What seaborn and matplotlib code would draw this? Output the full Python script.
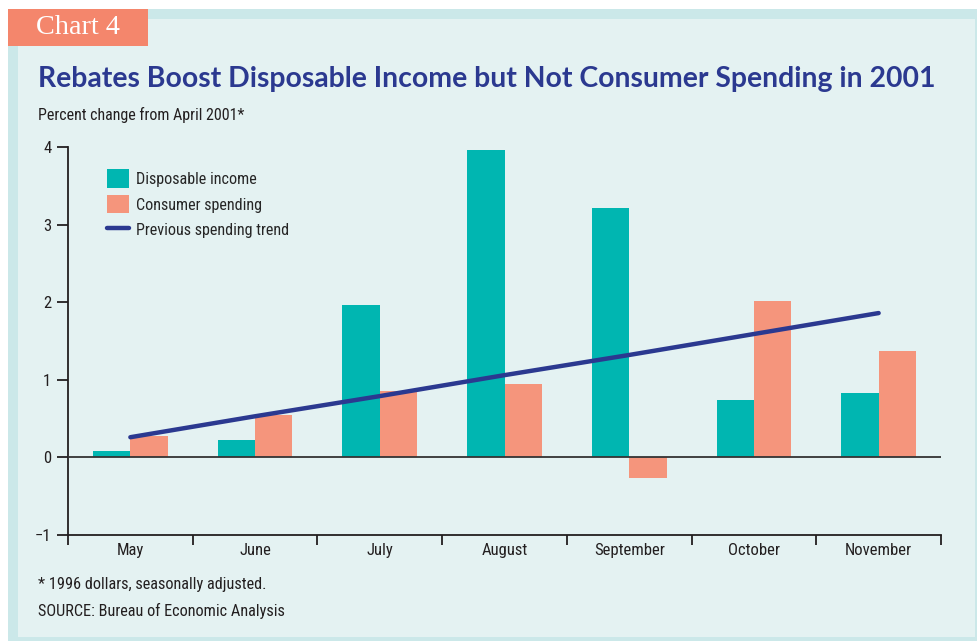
import matplotlib
matplotlib.use("Agg")
import matplotlib.pyplot as plt
from matplotlib.patches import Rectangle, Patch
from matplotlib.lines import Line2D
import numpy as np
import pandas as pd
import seaborn as sns

# ---- data -------------------------------------------------------------
months = ["May", "June", "July", "August", "September", "October", "November"]
disposable_income = [0.08, 0.22, 1.97, 3.96, 3.21, 0.74, 0.83]
consumer_spending = [0.28, 0.55, 0.86, 0.95, -0.26, 2.01, 1.37]
spending_trend = [0.26, 0.53, 0.79, 1.06, 1.32, 1.59, 1.86]
y_ticks = [-1, 0, 1, 2, 3, 4]
y_tick_labels = ["\u22121", "0", "1", "2", "3", "4"]

series_names = ["Disposable income", "Consumer spending"]
trend_name = "Previous spending trend"

# ---- style ------------------------------------------------------------
TEAL = "#00b6b1"
SALMON = "#f5957c"
NAVY = "#2b3990"
PANEL = "#e4f2f2"
BORDER = "#cbe8e9"
TAB = "#f4866c"
TEXT = "#231f20"

sns.set_theme(style="white")
cond = ["Liberation Sans Narrow", "Roboto Condensed", "DejaVu Sans Condensed", "Roboto"]
plt.rcParams["font.family"] = cond
plt.rcParams["axes.unicode_minus"] = True

W, H = 977, 641
fig = plt.figure(figsize=(W / 100, H / 100), dpi=100)
fig.patch.set_facecolor("white")


def fx(px):
    return px / W


def fy(py):
    return 1 - py / H


# Framed panel behind the chart
fig.patches.append(Rectangle((fx(8), 0), fx(977 - 8), fy(9), transform=fig.transFigure,
                             facecolor=BORDER, edgecolor="none", zorder=-10))
fig.patches.append(Rectangle((fx(18), fy(637)), fx(975 - 18), fy(19) - fy(637),
                             transform=fig.transFigure, facecolor=PANEL,
                             edgecolor="none", zorder=-9))
fig.patches.append(Rectangle((fx(8), fy(46)), fx(148 - 8), fy(9) - fy(46),
                             transform=fig.transFigure, facecolor=TAB,
                             edgecolor="none", zorder=-8))
fig.text(fx(36), fy(28), "Chart 4", color="white", fontsize=20.3,
         family=["Liberation Serif", "DejaVu Serif"], va="center", ha="left")

fig.text(fx(38), fy(79), "Rebates Boost Disposable Income but Not Consumer Spending in 2001",
         color=NAVY, fontsize=20.4, fontweight="bold", family=["Lato", "DejaVu Sans"],
         va="center", ha="left")
fig.text(fx(38), fy(115), "Percent change from April 2001*", color=TEXT, fontsize=11.5,
         va="center", ha="left")
fig.text(fx(38), fy(584), "* 1996 dollars, seasonally adjusted.", color=TEXT,
         fontsize=11.7, va="center", ha="left")
fig.text(fx(38), fy(611), "SOURCE: Bureau of Economic Analysis", color=TEXT,
         fontsize=11.7, va="center", ha="left")

# ---- axes -------------------------------------------------------------
ax = fig.add_axes([fx(68), fy(535), fx(941 - 68), fy(147) - fy(535)])
ax.set_facecolor("none")
ax.set_zorder(5)

df = pd.DataFrame({
    "month": months * 2,
    "value": disposable_income + consumer_spending,
    "series": [series_names[0]] * len(months) + [series_names[1]] * len(months),
})
sns.barplot(data=df, x="month", y="value", hue="series", order=months,
            hue_order=series_names, palette=[TEAL, SALMON], width=0.6,
            saturation=1, ax=ax, legend=False, zorder=2)
for p in ax.patches:
    p.set_edgecolor("none")

trend_df = pd.DataFrame({"pos": np.arange(len(months)), "trend": spending_trend})
sns.lineplot(data=trend_df, x="pos", y="trend", color=NAVY, linewidth=3.2,
             solid_capstyle="round", ax=ax, zorder=4)

ax.axhline(0, color="#333333", linewidth=1.3, zorder=3)

ax.set_xlim(-0.5, len(months) - 0.5)
ax.set_ylim(-1, 4)
ax.set_yticks(y_ticks)
ax.set_yticklabels(y_tick_labels)
ax.set_xticks(np.arange(len(months)))
ax.set_xticklabels(months)
ax.set_xticks(np.arange(len(months) + 1) - 0.5, minor=True)
ax.set_xlabel("")
ax.set_ylabel("")

for side in ["top", "right"]:
    ax.spines[side].set_visible(False)
for side in ["left", "bottom"]:
    ax.spines[side].set_color(TEXT)
    ax.spines[side].set_linewidth(1.3)

ax.tick_params(axis="y", which="major", direction="out", length=8, width=1.3,
               color=TEXT, labelsize=12, labelcolor=TEXT, pad=4, left=True)
ax.tick_params(axis="x", which="major", length=0, labelsize=12, labelcolor=TEXT, pad=6)
ax.tick_params(axis="x", which="minor", direction="out", length=7, width=1.3,
               color=TEXT, bottom=True)

handles = [Patch(facecolor=TEAL, edgecolor="none"),
           Patch(facecolor=SALMON, edgecolor="none"),
           Line2D([0], [0], color=NAVY, linewidth=3.2, solid_capstyle="round")]
ax.legend(handles, series_names + [trend_name], loc="upper left",
          bbox_to_anchor=(fx(107 - 68) / fx(941 - 68), 1 - (169 - 147) / (535 - 147)),
          frameon=False, fontsize=11.6, handlelength=1.35, handleheight=1.4,
          handletextpad=0.45, labelspacing=0.45, borderaxespad=0, borderpad=0)

fig.savefig("out.png", dpi=100, facecolor=fig.get_facecolor())
